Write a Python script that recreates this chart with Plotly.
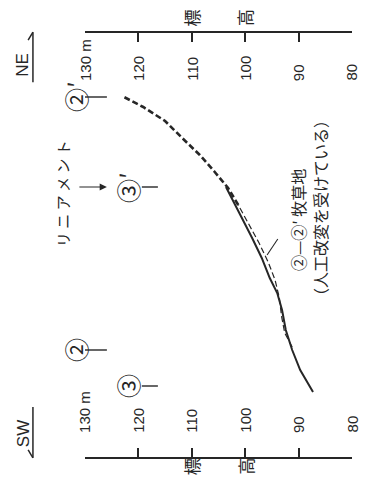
import plotly.graph_objects as go

# profil ③-③' (trait plein) : distance depuis SW (m) et altitude (m)
solid_dist = [65, 87, 107, 127, 147, 164, 179, 199, 219, 239, 257, 270]
solid_elev = [87.3, 89.7, 91.2, 92.4, 93.1, 94.0, 95.4, 96.9, 98.7, 100.6, 102.3, 103.6]

# profil ②-②' (tirets) : partie haute (épaisse) et partie basse (fine, prairie)
dash_up_dist = [252, 269, 285, 302, 319, 336, 350, 360]
dash_up_elev = [101.3, 103.2, 105.7, 108.5, 111.8, 115.0, 119.1, 122.7]
dash_low_dist = [110, 124, 141, 159, 177, 195, 214, 232, 252]
dash_low_elev = [91.2, 92.6, 93.2, 93.6, 94.4, 95.7, 97.4, 99.3, 101.3]

tick_vals = [130, 120, 110, 100, 90, 80]
tick_text = ["130 m", "120", "110", "100", "90", "80"]

station_names = ["②", "③", "③′", "②′"]
station_dist = [107, 71, 270, 360]
station_xpaper = [-0.037, 0.157, 0.157, -0.037]
lineament_dist = 270

ink = "#262626"
jp = "Noto Sans CJK JP"
mid = dict(xanchor="center", yanchor="middle")

fig = go.Figure()
fig.add_trace(go.Scatter(x=solid_elev, y=solid_dist, mode="lines",
                         line=dict(color=ink, width=2), hoverinfo="skip"))
fig.add_trace(go.Scatter(x=dash_up_elev, y=dash_up_dist, mode="lines",
                         line=dict(color=ink, width=2.6, dash="6px,3px"), hoverinfo="skip"))
fig.add_trace(go.Scatter(x=dash_low_elev, y=dash_low_dist, mode="lines",
                         line=dict(color=ink, width=1.2, dash="6px,3px"), hoverinfo="skip"))

ann = []
# étiquettes d'altitude (tournées), en haut et en bas
for v, t in zip(tick_vals, tick_text):
    ann.append(dict(x=v, xref="x", y=0.882, yref="paper", text=t, textangle=-90,
                    showarrow=False, xanchor="center", yanchor="bottom",
                    font=dict(family="Liberation Sans", size=15, color=ink)))
    ann.append(dict(x=v, xref="x", y=0.052, yref="paper", text=t, textangle=-90,
                    showarrow=False, xanchor="center", yanchor="bottom",
                    font=dict(family="Liberation Sans", size=15, color=ink)))
for yy in [1.036, -0.022]:
    ann.append(dict(x=110, xref="x", y=yy, yref="paper", text="標", textangle=-90,
                    showarrow=False, font=dict(family=jp, size=17, color=ink), **mid))
    ann.append(dict(x=100, xref="x", y=yy, yref="paper", text="高", textangle=-90,
                    showarrow=False, font=dict(family=jp, size=17, color=ink), **mid))

# repères des profils
shapes = []
for name, d, xp in zip(station_names, station_dist, station_xpaper):
    ann.append(dict(x=xp, xref="paper", y=d, yref="y", text=name, textangle=-90,
                    showarrow=False, font=dict(family=jp, size=24, color=ink), **mid))
    x0 = 0.0 if xp < 0 else 0.213
    x1 = 0.082 if xp < 0 else 0.273
    shapes.append(dict(type="line", xref="paper", yref="y", x0=x0, x1=x1, y0=d, y1=d,
                       line=dict(color=ink, width=1.4)))

ann.append(dict(x=0.082, xref="paper", y=lineament_dist, yref="y", text="",
                showarrow=True, ax=-29, ay=0, arrowhead=2, arrowsize=1.2,
                arrowwidth=1.2, arrowcolor=ink))
ann.append(dict(x=-0.086, xref="paper", y=263, yref="y", text="リ ニ ア メ ン ト",
                textangle=-90, showarrow=False, font=dict(family=jp, size=15, color=ink), **mid))
ann.append(dict(x=0.798, xref="paper", y=237, yref="y", text="②—②′ 牧草地",
                textangle=-90, showarrow=False, font=dict(family=jp, size=16, color=ink), **mid))
ann.append(dict(x=0.880, xref="paper", y=249, yref="y", text="（人工改変を受けている）",
                textangle=-90, showarrow=False, font=dict(family=jp, size=16, color=ink), **mid))
shapes.append(dict(type="line", xref="x", yref="y", x0=95.9, y0=202, x1=93.9, y1=218,
                   line=dict(color=ink, width=1.1)))

# orientation NE / SW
ann.append(dict(x=-0.232, xref="paper", y=0.925, yref="paper", text="NE", textangle=-90,
                showarrow=False, font=dict(family="Liberation Sans", size=17, color=ink), **mid))
ann.append(dict(x=-0.232, xref="paper", y=0.054, yref="paper", text="SW", textangle=-90,
                showarrow=False, font=dict(family="Liberation Sans", size=17, color=ink), **mid))
for x0, y0, x1, y1 in [(-0.195, 1.002, -0.195, 0.884), (-0.195, 1.002, -0.213, 0.983),
                       (-0.195, 0.118, -0.195, -0.002), (-0.195, -0.002, -0.213, 0.017)]:
    shapes.append(dict(type="line", xref="paper", yref="paper", x0=x0, y0=y0, x1=x1, y1=y1,
                       line=dict(color=ink, width=1.5)))

fig.update_layout(
    width=366, height=483,
    margin=dict(l=85, r=14, t=33, b=26),
    paper_bgcolor="white", plot_bgcolor="white",
    showlegend=False,
    annotations=ann, shapes=shapes,
    xaxis=dict(range=[130, 80], showgrid=False, zeroline=False, showline=True,
               linecolor=ink, linewidth=1.8, mirror="ticks", ticks="inside",
               ticklen=9, tickwidth=1.8, tickcolor=ink, tickvals=tick_vals,
               showticklabels=False),
    yaxis=dict(range=[0, 424], showgrid=False, zeroline=False, showline=False,
               showticklabels=False, ticks=""),
)

# la page a une marge par défaut de 8px : on la supprime pour caler la figure
fig.write_html("out.html", config={"displayModeBar": False},
               post_script="document.body.style.margin='0';")
